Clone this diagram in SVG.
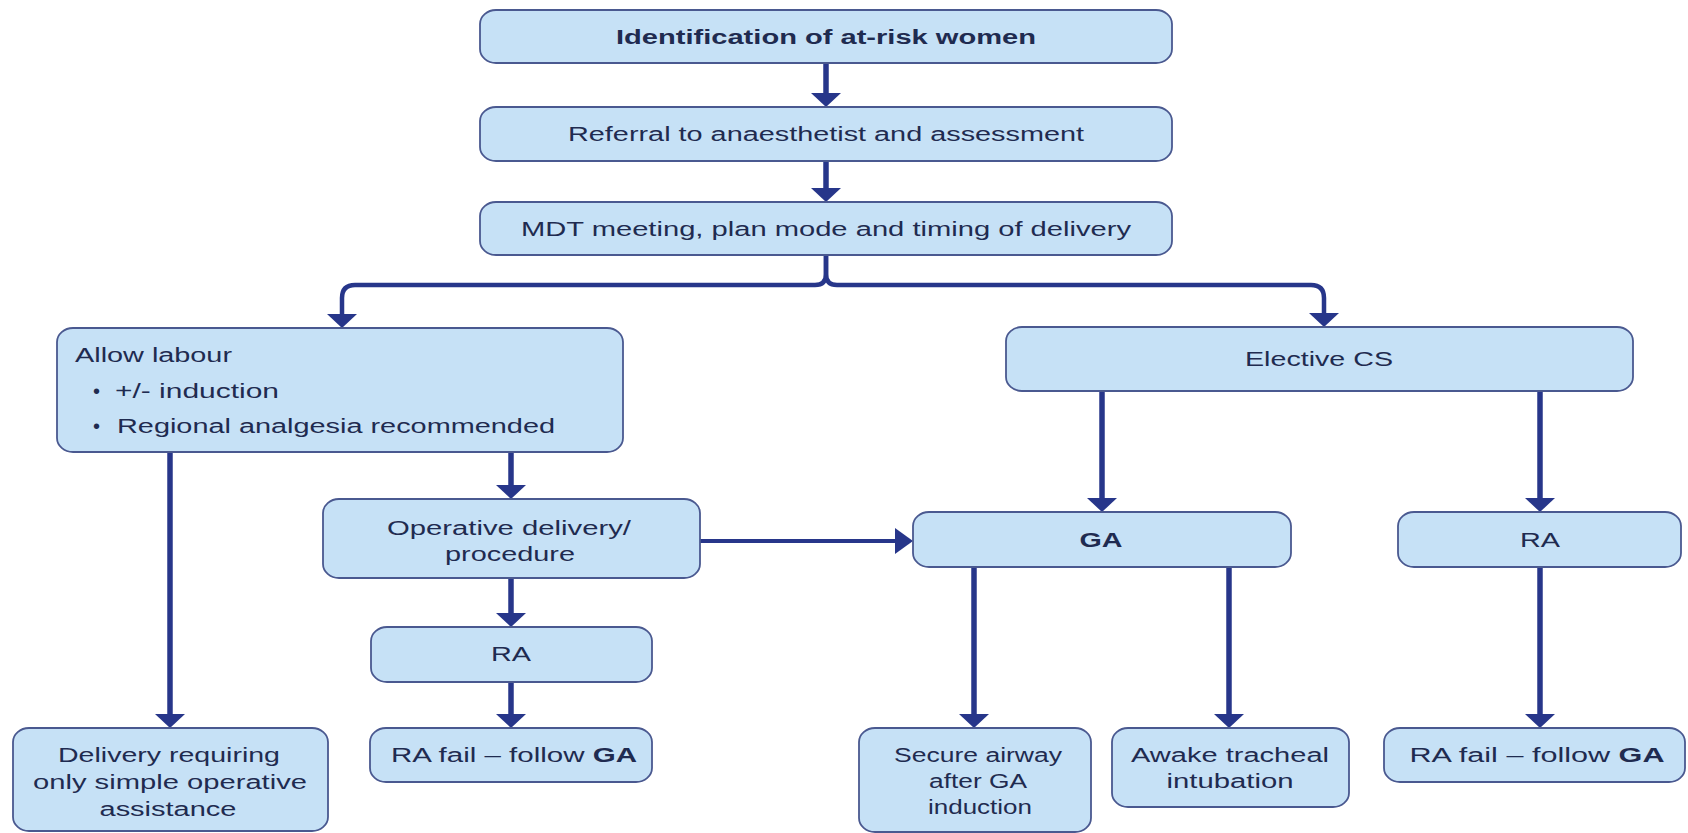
<svg xmlns="http://www.w3.org/2000/svg" width="1688" height="833" viewBox="0 0 1688 833">
  <style>
    .box { fill: #c6e1f6; stroke: #4a5990; stroke-width: 1.8; }
    .t { font-family: "Liberation Sans", Arial, Helvetica, sans-serif; font-size: 20px; fill: #1f2b50; }
    .c { text-anchor: middle; }
    .b { font-weight: bold; }
    .line { fill: none; stroke: #27368a; stroke-width: 5.5; }
    .hline { fill: none; stroke: #27368a; stroke-width: 4; }
    .head { fill: #27368a; }
  </style>
  <rect width="1688" height="833" fill="#ffffff"/>

  <!-- connectors -->
  <g id="connectors">
    <!-- top chain -->
    <line class="line" x1="826" y1="63" x2="826" y2="95"/>
    <polygon class="head" points="811,93 841,93 826,107"/>
    <line class="line" x1="826" y1="161" x2="826" y2="190"/>
    <polygon class="head" points="811,188 841,188 826,202"/>
    <!-- split below planning meeting -->
    <path class="line" style="stroke-width:4.5" d="M826,255 V274 Q826,285 815,285 H355 Q342,285 342,298 V316"/>
    <path class="line" style="stroke-width:4.5" d="M826,255 V274 Q826,285 837,285 H1311 Q1324,285 1324,298 V315"/>
    <polygon class="head" points="327,314 357,314 342,328"/>
    <polygon class="head" points="1309,313 1339,313 1324,327"/>
    <!-- labour branch -->
    <line class="line" x1="170" y1="452" x2="170" y2="716"/>
    <polygon class="head" points="155,714 185,714 170,728"/>
    <line class="line" x1="511" y1="452" x2="511" y2="487"/>
    <polygon class="head" points="496,485 526,485 511,499"/>
    <line class="line" x1="511" y1="578" x2="511" y2="615"/>
    <polygon class="head" points="496,613 526,613 511,627"/>
    <line class="line" x1="511" y1="682" x2="511" y2="716"/>
    <polygon class="head" points="496,714 526,714 511,728"/>
    <!-- operative delivery to GA -->
    <line class="hline" x1="700" y1="541" x2="897" y2="541"/>
    <polygon class="head" points="895,528 913,541 895,554"/>
    <!-- elective branch -->
    <line class="line" x1="1102" y1="391" x2="1102" y2="500"/>
    <polygon class="head" points="1087,498 1117,498 1102,512"/>
    <line class="line" x1="1540" y1="391" x2="1540" y2="500"/>
    <polygon class="head" points="1525,498 1555,498 1540,512"/>
    <!-- GA outcomes -->
    <line class="line" x1="974" y1="567" x2="974" y2="716"/>
    <polygon class="head" points="959,714 989,714 974,728"/>
    <line class="line" x1="1229" y1="567" x2="1229" y2="716"/>
    <polygon class="head" points="1214,714 1244,714 1229,728"/>
    <line class="line" x1="1540" y1="567" x2="1540" y2="716"/>
    <polygon class="head" points="1525,714 1555,714 1540,728"/>
  </g>

  <!-- nodes -->
  <g id="identification">
    <rect class="box" x="480" y="10" width="692" height="53" rx="16" ry="14"/>
    <text class="t c b" x="826" y="44" textLength="420" lengthAdjust="spacingAndGlyphs">Identification of at-risk women</text>
  </g>
  <g id="referral">
    <rect class="box" x="480" y="107" width="692" height="54" rx="16" ry="14"/>
    <text class="t c" x="826" y="141" textLength="516" lengthAdjust="spacingAndGlyphs">Referral to anaesthetist and assessment</text>
  </g>
  <g id="mdt">
    <rect class="box" x="480" y="202" width="692" height="53" rx="16" ry="14"/>
    <text class="t c" x="826" y="236" textLength="610" lengthAdjust="spacingAndGlyphs">MDT meeting, plan mode and timing of delivery</text>
  </g>
  <g id="allow-labour">
    <rect class="box" x="57" y="328" width="566" height="124" rx="16" ry="14"/>
    <text class="t" x="75" y="362" textLength="157" lengthAdjust="spacingAndGlyphs">Allow labour</text>
    <text class="t" x="93" y="398">•</text>
    <text class="t" x="115" y="398" textLength="164" lengthAdjust="spacingAndGlyphs">+/- induction</text>
    <text class="t" x="93" y="433">•</text>
    <text class="t" x="117" y="433" textLength="438" lengthAdjust="spacingAndGlyphs">Regional analgesia recommended</text>
  </g>
  <g id="elective-cs">
    <rect class="box" x="1006" y="327" width="627" height="64" rx="16" ry="14"/>
    <text class="t c" x="1319" y="366" textLength="148" lengthAdjust="spacingAndGlyphs">Elective CS</text>
  </g>
  <g id="operative-delivery">
    <rect class="box" x="323" y="499" width="377" height="79" rx="16" ry="14"/>
    <text class="t c" x="509" y="535" textLength="244" lengthAdjust="spacingAndGlyphs">Operative delivery/</text>
    <text class="t c" x="510" y="561" textLength="130" lengthAdjust="spacingAndGlyphs">procedure</text>
  </g>
  <g id="ga">
    <rect class="box" x="913" y="512" width="378" height="55" rx="16" ry="14"/>
    <text class="t c b" x="1101" y="547" textLength="43" lengthAdjust="spacingAndGlyphs">GA</text>
  </g>
  <g id="ra-elective">
    <rect class="box" x="1398" y="512" width="283" height="55" rx="16" ry="14"/>
    <text class="t c" x="1540" y="547" textLength="40" lengthAdjust="spacingAndGlyphs">RA</text>
  </g>
  <g id="ra-labour">
    <rect class="box" x="371" y="627" width="281" height="55" rx="16" ry="14"/>
    <text class="t c" x="511" y="661" textLength="40" lengthAdjust="spacingAndGlyphs">RA</text>
  </g>
  <g id="simple-delivery">
    <rect class="box" x="13" y="728" width="315" height="103" rx="16" ry="14"/>
    <text class="t c" x="169" y="762" textLength="222" lengthAdjust="spacingAndGlyphs">Delivery requiring</text>
    <text class="t c" x="170" y="789" textLength="274" lengthAdjust="spacingAndGlyphs">only simple operative</text>
    <text class="t c" x="168" y="816" textLength="137" lengthAdjust="spacingAndGlyphs">assistance</text>
  </g>
  <g id="ra-fail-labour">
    <rect class="box" x="370" y="728" width="282" height="54" rx="16" ry="14"/>
    <text class="t c" x="514" y="762" textLength="246" lengthAdjust="spacingAndGlyphs">RA fail – follow <tspan class="b">GA</tspan></text>
  </g>
  <g id="secure-airway">
    <rect class="box" x="859" y="728" width="232" height="104" rx="16" ry="14"/>
    <text class="t c" x="978" y="762" textLength="168" lengthAdjust="spacingAndGlyphs">Secure airway</text>
    <text class="t c" x="978" y="788" textLength="98" lengthAdjust="spacingAndGlyphs">after GA</text>
    <text class="t c" x="980" y="814" textLength="104" lengthAdjust="spacingAndGlyphs">induction</text>
  </g>
  <g id="awake-intubation">
    <rect class="box" x="1112" y="728" width="237" height="79" rx="16" ry="14"/>
    <text class="t c" x="1230" y="762" textLength="198" lengthAdjust="spacingAndGlyphs">Awake tracheal</text>
    <text class="t c" x="1230" y="788" textLength="127" lengthAdjust="spacingAndGlyphs">intubation</text>
  </g>
  <g id="ra-fail-elective">
    <rect class="box" x="1384" y="728" width="301" height="54" rx="16" ry="14"/>
    <text class="t c" x="1537" y="762" textLength="255" lengthAdjust="spacingAndGlyphs">RA fail – follow <tspan class="b">GA</tspan></text>
  </g>
</svg>
